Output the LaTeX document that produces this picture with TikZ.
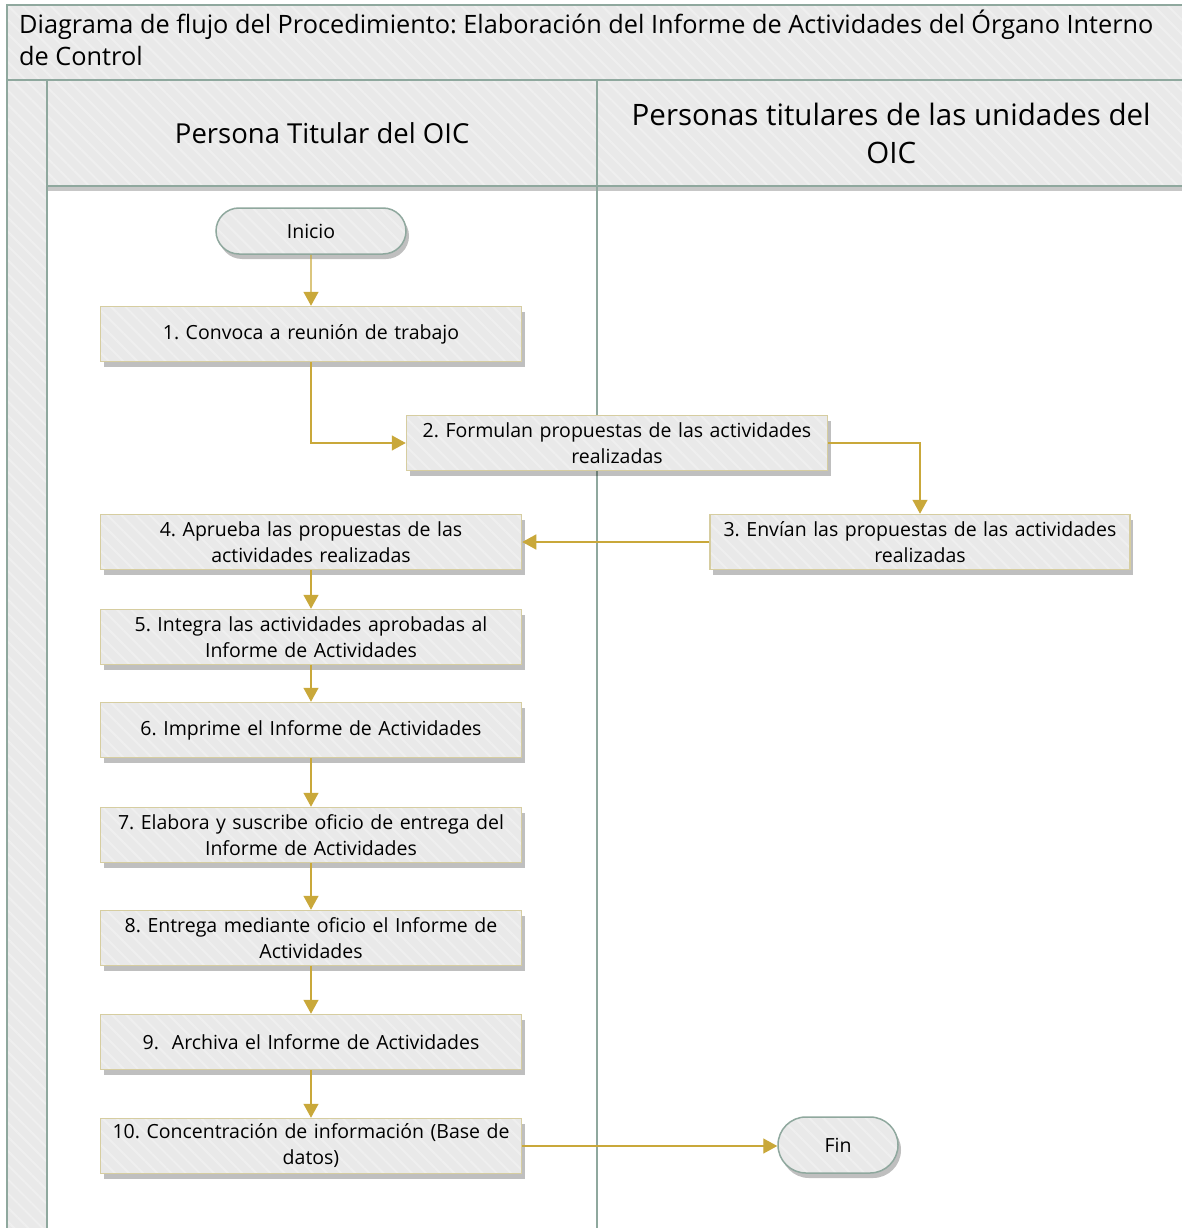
\documentclass[tikz,border=0pt]{standalone}
\usepackage{fontspec}
\setmainfont{Open Sans}
\usetikzlibrary{arrows.meta,shadows,patterns.meta,shapes.misc}
\definecolor{frame}{RGB}{143,168,158}
\definecolor{panel}{RGB}{233,233,233}
\definecolor{boxline}{RGB}{214,205,160}
\definecolor{flowc}{RGB}{201,168,58}
\definecolor{hatchc}{RGB}{239,239,239}
\tikzset{
  bg/.style={preaction={fill=panel},preaction={pattern={Lines[angle=-45,distance=10pt,line width=2pt]},pattern color=hatchc}},
  shade/.style={drop shadow={shadow xshift=3pt,shadow yshift=-5pt,fill=black,opacity=0.25}},
  proc/.style={shade,bg,draw=boxline,line width=1.5pt,
    minimum width=421pt,minimum height=55pt,text width=415pt,inner sep=0pt,
    align=center,font=\fontsize{19.5}{26}\selectfont},
  term/.style={rounded rectangle,shade,bg,draw=frame,line width=1.5pt,
    inner sep=0pt,font=\fontsize{19.5}{26}\selectfont},
  flow/.style={draw=flowc,line width=1.4pt,-{Triangle[length=14pt,width=15pt]}},
  lanehead/.style={drop shadow={shadow xshift=0pt,shadow yshift=-5pt,fill=black,opacity=0.22},bg,inner sep=0pt,align=center},
  frameline/.style={draw=frame,line width=2pt}
}
\begin{document}
\frenchspacing
\begin{tikzpicture}[x=1pt,y=-1pt]
\useasboundingbox (0,0) rectangle (1182,1228);
\clip (0,0) rectangle (1182,1228);
% pool frame
\path[bg] (7,5) rectangle (1195,80);
\path[bg] (7,80) rectangle (47,1235);
\fill[white] (47,186) rectangle (1195,1235);
\node[lanehead,minimum width=550pt,minimum height=106pt,anchor=north west,font=\fontsize{27.5}{38}\selectfont] (h1) at (47,80) {Persona Titular del OIC};
\node[lanehead,minimum width=600pt,minimum height=106pt,anchor=north west,font=\fontsize{29.5}{38}\selectfont] (h2) at (597,80) {\hspace*{-12pt}Personas titulares de las unidades del\\OIC\hspace*{12pt}};
\node[anchor=north west,inner sep=0pt,align=left,font=\fontsize{25.3}{32}\selectfont] (title) at (19,10)
  {Diagrama de flujo del Procedimiento: Elaboración del Informe de Actividades del Órgano Interno\\de Control};
\draw[frameline] (1195,5) -- (7,5) -- (7,1235);
\draw[frameline] (7,80) -- (1195,80);
\draw[frameline] (47,80) -- (47,1235);
\draw[frameline] (597,80) -- (597,1235);
\draw[frameline] (47,186) -- (1195,186);
% nodes
\node[term,minimum width=190pt,minimum height=46pt] (ini) at (311,231) {Inicio};
\node[proc] (b1) at (311,334) {1. Convoca a reunión de trabajo};
\node[proc] (b2) at (617,443) {2. Formulan propuestas de las actividades\\realizadas};
\node[proc,minimum width=420pt] (b3) at (920,542) {3. Envían las propuestas de las actividades\\realizadas};
\node[proc] (b4) at (311,542) {4. Aprueba las propuestas de las\\actividades realizadas};
\node[proc] (b5) at (311,637) {5. Integra las actividades aprobadas al\\Informe de Actividades};
\node[proc] (b6) at (311,730) {6. Imprime el Informe de Actividades};
\node[proc] (b7) at (311,835) {7. Elabora y suscribe oficio de entrega del\\Informe de Actividades};
\node[proc] (b8) at (311,938) {8. Entrega mediante oficio el Informe de\\Actividades};
\node[proc] (b9) at (311,1042) {9.\ \ Archiva el Informe de Actividades};
\node[proc] (b10) at (311,1146) {10. Concentración de información (Base de\\datos)};
\node[term,minimum width=120pt,minimum height=56pt] (fin) at (838,1145) {Fin};
% connectors
\draw[flow] (ini) -- (b1);
\draw[flow] (b1.south) |- (b2.west);
\draw[flow] (b2.east) -| (b3.north);
\draw[flow] (b3) -- (b4);
\draw[flow] (b4) -- (b5);
\draw[flow] (b5) -- (b6);
\draw[flow] (b6) -- (b7);
\draw[flow] (b7) -- (b8);
\draw[flow] (b8) -- (b9);
\draw[flow] (b9) -- (b10);
\draw[flow] (b10.east) -- (b10.east -| fin.west);
\end{tikzpicture}
\end{document}
